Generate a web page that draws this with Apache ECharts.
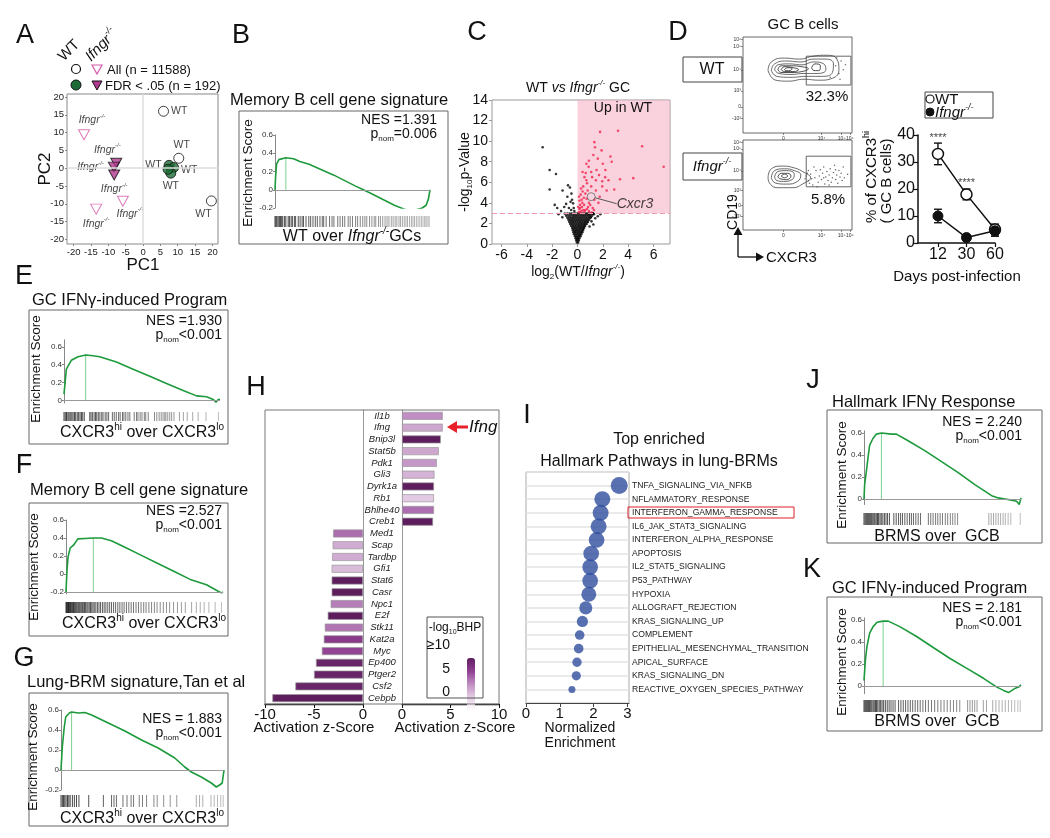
<!DOCTYPE html>
<html><head><meta charset="utf-8">
<script src="https://cdn.jsdelivr.net/npm/echarts@6/dist/echarts.min.js"></script>
<style>html,body{margin:0;padding:0;background:#fff}#c{width:1050px;height:838px}</style>
</head><body><div id="c"></div>
<script>
// ================= DATA =================
// A: PCA
const pcaTicks=[-20,-15,-10,-5,0,5,10,15,20];
const pcaWtAll=[[5.9,16],[10.3,2.8],[19.7,-9.2]];
const pcaWtFdr=[[7.5,0.8],[8.8,0.2],[8.0,-1.4],[7.2,-0.3]];
const pcaKoAll=[[-17,9.4],[-13.5,-11.5],[-5.8,-9.3]];
const pcaKoFdr=[[-7.7,1.4],[-8.4,0.3],[-8.3,-1.9]];
// GSEA running enrichment scores ([rank %, ES]) and hit positions (rank %)
const bES=[[0,0],[0.4,0.15],[1,0.28],[2.5,0.33],[7,0.35],[12,0.34],[16,0.31],[22,0.28],[30,0.22],[38,0.16],[45,0.1],[52,0.04],[57,0],[63,-0.05],[70,-0.11],[77,-0.17],[83,-0.21],[87,-0.23],[91,-0.22],[95,-0.2],[97.5,-0.17],[99,-0.1],[100,0]];
const bHits=[0,0.6,1.2,2,2.8,3.5,4.3,5,6.2,7,8.5,9.3,10.4,11.2,12.5,13.3,15,16.2,17.5,18.4,20,21.8,23,24.5,26,27.3,29,30.5,31.4,33,35.2,36.8,38,40.5,42,43.6,45,47.2,48.5,50,52,53.3,55,56.6,58,59.2,61,62.5,64,65,66.8,68,69.5,71,72.3,73.5,75,76.2,77.5,78.6,80,81,82.2,83.4,84.5,85.5,86.8,88,89,90,91.2,92.3,93.4,94.5,95.5,96.5,97.3,98,98.8,99.5];
const eES=[[0,0.07],[1.5,0.35],[4.7,0.45],[9,0.49],[13.9,0.51],[18.6,0.5],[22.9,0.49],[33.6,0.43],[44.3,0.35],[55,0.27],[65.7,0.19],[76.4,0.11],[85,0.05],[91.4,0.04],[95.7,0.01],[97.4,-0.02],[98.9,0.01],[100,0.01]];
const eHits=[0,0.8,1.6,2.5,3.2,4,5,5.8,6.7,7.5,8.5,9.4,10.3,11.2,12,13,16.5,17.3,18.2,19.3,20.2,21,22,23,24.2,25,26.4,27.5,28.6,31,32.2,33.5,35,36,37.5,38.4,39.6,41,42.2,45,46.5,47.4,48.8,50,51.5,52.4,54,58,59.5,61,62.3,63.5,64.6,65.3,66.5,67.8,69,70.5,74,76.5,79,82.5,86,91,99];
const fES=[[0,-0.2],[0.6,0.03],[1.3,0.19],[2.7,0.29],[4.8,0.32],[7.5,0.39],[12.1,0.395],[17.4,0.4],[22.6,0.4],[28.9,0.37],[37.2,0.3],[47.7,0.21],[58.2,0.12],[68.6,0.03],[79.1,-0.06],[89.5,-0.12],[95.8,-0.18],[99,-0.21],[100,-0.2]];
const fHits=[0,0.4,0.8,1.2,1.6,2,2.4,2.8,3.3,3.8,4.3,4.8,5.3,5.9,6.5,7.1,7.8,8.4,9,9.7,10.4,11,11.8,12.5,13.3,14,14.8,15.6,16.4,17.2,18,19,20,21,22,23.2,24.3,25.4,26.6,27.8,29,30.3,31.6,33,34.3,35.7,37,38.5,40,41.5,43,44.6,46.2,47.8,49.5,51,52.8,54.5,56.3,58,60,62,64,66,68.5,71,73.5,76,80,83,85.5,88,91,95,99];
const gES=[[0,0],[0.8,0.23],[2,0.43],[2.9,0.53],[4.1,0.55],[5.1,0.57],[6.5,0.58],[10.6,0.57],[14.7,0.575],[18.8,0.55],[29,0.47],[39.2,0.39],[49.4,0.3],[59.6,0.22],[69.8,0.12],[75.9,0.03],[80,-0.02],[86.1,-0.07],[92.2,-0.13],[95.3,-0.17],[97.3,-0.15],[98.9,-0.13],[100,0]];
const gHits=[0,0.8,1.5,2.3,3.1,4,4.8,5.6,7,8.2,9.5,11,17,26,31,32.5,34,38,40.5,43,44.5,48,50,52.5,57,59,63,67,71,83,85,87,92,94,96,98,99.5];
const jES=[[0,0],[0.4,0.13],[1.5,0.25],[2.6,0.38],[3.6,0.49],[5.7,0.55],[7.9,0.59],[11.1,0.6],[17.4,0.59],[20.6,0.59],[28.1,0.53],[38.7,0.44],[49.4,0.34],[60,0.24],[70.6,0.13],[81.3,0.03],[85.5,0.01],[89.8,0],[94,-0.01],[97.2,-0.02],[98.9,-0.05],[100,0.01]];
const jHits=[0,0.7,1.4,2,2.6,3.2,3.8,4.4,5,5.7,6.4,7,7.8,8.6,9.3,10.2,11,12,13,14,15,16.2,19,20.5,22,23.3,24.5,26,27.5,29,30.2,31.5,33,34.5,36,41,42.5,44,45.6,47,48.5,50,51.8,53.3,55,56.5,58,59.6,79.5,81,82.5,84,85.5,87,88.6,90,91.8,93.5,99.5];
const kES=[[0,0.05],[0.9,0.24],[1.9,0.36],[3.6,0.48],[5.8,0.54],[8.3,0.58],[12.2,0.59],[15.4,0.59],[22.8,0.54],[33.5,0.45],[44.1,0.35],[54.8,0.25],[65.5,0.16],[76.1,0.07],[84.6,-0.01],[88.9,-0.04],[92.1,-0.06],[94.2,-0.04],[96.4,-0.02],[98.5,-0.01],[100,0.01]];
const kHits=[0,0.6,1.2,1.8,2.4,3,3.6,4.3,5,5.8,6.5,7.3,8,8.8,9.7,10.6,11.5,12.5,13.6,14.8,16,17.2,18.5,19.8,22,23.5,25,26.5,28,29.5,31,32.6,34.2,35.8,37.5,39.2,41,43,45,47,49,51,53,55,57,59,61,66,67.5,69,70.5,72,76,78,82,84,86,88,90,92,94,96,98,99.5];
// C: volcano
const vxTicks=[-6,-4,-2,0,2,4,6];
const volcanoUp=[[1.78,10.9],[3.2,11.0],[1.33,9.9],[1.38,9.4],[5.1,9.5],[2.6,8.5],[1.9,9.1],[0.9,8.1],[2.7,8.0],[6.8,7.5],[1.5,7.2],[1.08,7.0],[2.2,7.2],[1.95,6.1],[3.35,6.3],[4.4,6.4],[2.9,5.3],[1.45,5.2],[0.7,6.2],[0.75,5.9],[0.45,5.6],[0.62,4.9],[0.33,4.3],[0.52,3.8],[0.83,3.6],[1.2,3.5],[0.2,3.5],[0.4,5.1],[0.65,6.9],[0.88,7.5],[1.15,6.5],[1.7,6.7],[1.95,5.6],[2.45,6.2],[2.3,5.2],[1.33,4.3],[1.65,4.0],[0.25,4.8],[0.38,4.0],[0.6,3.3],[0.72,4.4],[1.08,5.6],[1.45,6.2],[1.25,8.65],[1.6,8.3],[2.0,7.8],[2.18,6.5],[1.75,4.6],[0.9,4.0],[0.1,3.1],[0.15,3.4],[0.3,3.2],[0.45,3.3],[0.2,3.8],[0.35,3.6],[0.75,3.4],[0.9,3.2],[1.0,3.8],[1.3,3.3],[0.5,4.5],[0.15,4.2],[0.28,5.4],[0.55,6.5],[0.4,7.0],[0.7,7.8],[0.8,5.2],[0.55,3.15],[0.25,3.05],[1.1,3.05],[0.05,3.6],[0.12,4.6]];
const volcanoNs=[[-0.05,0.15],[0.05,0.15],[-0.1,0.35],[0,0.35],[0.1,0.35],[-0.15,0.55],[-0.05,0.55],[0.05,0.55],[0.15,0.55],[-0.2,0.75],[-0.08,0.75],[0.04,0.75],[0.15,0.75],[0.25,0.75],[-0.28,0.95],[-0.15,0.95],[-0.03,0.95],[0.1,0.95],[0.2,0.95],[0.3,0.95],[-0.33,1.15],[-0.2,1.15],[-0.08,1.15],[0.05,1.15],[0.17,1.15],[0.3,1.15],[0.38,1.15],[-0.38,1.35],[-0.25,1.35],[-0.12,1.35],[0,1.35],[0.12,1.35],[0.25,1.35],[0.38,1.35],[0.45,1.35],[-0.42,1.55],[-0.3,1.55],[-0.18,1.55],[-0.05,1.55],[0.08,1.55],[0.2,1.55],[0.32,1.55],[0.44,1.55],[0.52,1.55],[-0.5,1.75],[-0.36,1.75],[-0.22,1.75],[-0.1,1.75],[0.04,1.75],[0.16,1.75],[0.28,1.75],[0.4,1.75],[0.52,1.75],[0.6,1.75],[-0.58,1.95],[-0.44,1.95],[-0.3,1.95],[-0.16,1.95],[-0.02,1.95],[0.12,1.95],[0.25,1.95],[0.38,1.95],[0.5,1.95],[0.62,1.95],[0.72,1.95],[-0.65,2.15],[-0.5,2.15],[-0.36,2.15],[-0.22,2.15],[-0.08,2.15],[0.06,2.15],[0.2,2.15],[0.34,2.15],[0.47,2.15],[0.6,2.15],[0.72,2.15],[0.82,2.15],[-0.72,2.35],[-0.58,2.35],[-0.44,2.35],[-0.3,2.35],[-0.16,2.35],[-0.02,2.35],[0.12,2.35],[0.26,2.35],[0.4,2.35],[0.54,2.35],[0.67,2.35],[0.8,2.35],[0.92,2.35],[-0.8,2.55],[-0.65,2.55],[-0.5,2.55],[-0.36,2.55],[-0.22,2.55],[-0.08,2.55],[0.06,2.55],[0.2,2.55],[0.34,2.55],[0.48,2.55],[0.62,2.55],[0.76,2.55],[0.9,2.55],[1.02,2.55],[-0.9,2.75],[-0.72,2.75],[-0.56,2.75],[-0.4,2.75],[-0.26,2.75],[-0.12,2.75],[0.02,2.75],[0.16,2.75],[0.3,2.75],[0.44,2.75],[0.58,2.75],[0.72,2.75],[0.86,2.75],[1.0,2.75],[1.15,2.75],[-1.0,2.95],[-0.8,2.95],[-0.62,2.95],[-0.45,2.95],[-0.3,2.95],[-0.15,2.95],[0,2.95],[0.15,2.95],[0.3,2.95],[0.45,2.95],[0.6,2.95],[0.75,2.95],[0.9,2.95],[1.05,2.95],[1.2,2.95],[-2.75,9.4],[-2.2,7.2],[-1.7,6.8],[-2.2,5.3],[-0.75,5.7],[-0.6,5.5],[-1.18,5.2],[-1.8,3.8],[-0.8,4.6],[-0.48,4.9],[-0.43,4.3],[-0.35,3.95],[-1.05,3.6],[-0.68,3.5],[-0.3,3.5],[-0.55,4.1],[-0.9,3.9],[-0.25,3.2],[-0.5,3.3],[-1.3,3.2],[-1.5,2.9],[-1.2,2.6],[-1.6,3.5],[1.3,2.9],[1.4,2.5],[1.1,2.2],[1.6,2.7],[1.25,1.9],[0.95,1.7],[1.05,2.6],[1.8,2.9],[1.2,3.0],[0.9,2.9]];
const cxcr3=[[1.08,4.6]];
const pThreshold=3;
// D: flow plots (plot units 0-100) and time course
const flowTickY=[15.3,27,44,65.6,90,97.6], flowLabY=['-10³','0','10³','10⁴','10⁵','10⁶'];
const flowTickX=[37,72,90.5,98], flowLabX=['0','10⁴','10⁵','10⁶'];
const wtContours=[
 [[23,65],[26,74],[38,78],[52,77],[64,80],[76,81],[86,77],[88,66],[82,57],[70,55],[56,56],[42,54],[30,55],[23,65]],
 [[26,65],[29,72],[40,75],[53,74],[65,77],[76,77],[83,72],[82,63],[72,59],[58,59],[44,58],[31,59],[26,65]],
 [[29,66],[32,71],[42,72],[54,71],[65,74],[74,72],[76,66],[68,62],[56,62],[44,61],[33,62],[29,66]],
 [[32,66],[35,70],[44,70],[54,69],[60,67],[54,64],[44,63],[35,63],[32,66]],
 [[35,66],[38,69],[46,68],[51,66],[46,64],[38,64],[35,66]],
 [[38,66],[41,68],[45,67],[43,65],[39,65],[38,66]],
 [[63,68],[66,72],[71,70],[70,65],[65,65],[63,68]]];
const koContours=[
 [[23,58],[26,68],[36,71],[47,69],[56,64],[62,58],[56,52],[45,47],[32,47],[25,51],[23,58]],
 [[26,58],[29,66],[38,68],[47,66],[53,61],[50,54],[40,51],[30,52],[26,58]],
 [[29,59],[32,65],[40,66],[47,62],[45,56],[37,54],[31,55],[29,59]],
 [[32,59],[35,63],[41,63],[44,60],[40,56],[34,57],[32,59]],
 [[35,60],[38,62],[41,60],[38,58],[35,60]]];
const wtGateDots=[[85,70],[88,62],[90,75],[92,66],[94,71],[89,56],[86,78],[80,58]];
const koGateDots=[[60,55],[62,62],[64,50],[66,58],[67,66],[69,53],[70,60],[72,56],[73,63],[74,70],[75,51],[76,59],[77,65],[78,55],[79,61],[80,68],[81,53],[82,58],[83,64],[84,72],[85,56],[86,61],[87,52],[88,66],[89,59],[90,63],[91,55],[92,70],[60,66],[63,57],[65,70],[68,48],[71,67],[58,60],[61,52],[74,58],[79,50],[85,67],[93,58],[96,62],[57,57],[59,63]];
const wtGate=[58,50,99,80], koGate=[58,48,99,82];
const dayLabels=['12','30','60'];
const wtPct=[33,18,5], wtErr=[4,2,2];
const koPct=[10,2,4.5], koErr=[2.5,0.5,2];
const starPos=[[1,39],[2,22.3]];
// H: upstream regulators
const genesUp=['Il1b','Ifng','Bnip3l','Stat5b','Pdk1','Gli3','Dyrk1a','Rb1','Bhlhe40','Creb1'];
const zUp=[4.2,4.2,4.0,3.8,3.6,3.35,3.3,3.3,3.3,3.2];
const bhpUp=[5,4,10,4,4.6,3.5,10,2.6,6,10];
const genesDown=['Med1','Scap','Tardbp','Gfi1','Stat6','Casr','Npc1','E2f','Stk11','Kat2a','Myc','Ep400','Ptger2','Csf2','Cebpb'];
const zDown=[-3.05,-3.1,-3.15,-3.2,-3.2,-3.2,-3.3,-3.6,-3.9,-4.0,-4.2,-4.8,-5.0,-6.9,-9.25];
const bhpDown=[6,3.8,3.8,3.2,10,10,5.5,10,5.8,7.8,7.3,9.5,9.5,9.5,10];
// I: hallmark pathways
const pathways=['TNFA_SIGNALING_VIA_NFKB','NFLAMMATORY_RESPONSE','INTERFERON_GAMMA_RESPONSE','IL6_JAK_STAT3_SIGNALING','INTERFERON_ALPHA_RESPONSE','APOPTOSIS','IL2_STAT5_SIGNALING','P53_PATHWAY','HYPOXIA','ALLOGRAFT_REJECTION','KRAS_SIGNALING_UP','COMPLEMENT','EPITHELIAL_MESENCHYMAL_TRANSITION','APICAL_SURFACE','KRAS_SIGNALING_DN','REACTIVE_OXYGEN_SPECIES_PATHWAY'];
const pathNES=[2.76,2.26,2.21,2.15,2.09,1.93,1.9,1.9,1.86,1.77,1.67,1.59,1.56,1.51,1.49,1.36];
const pathSize=[50,46,46,46,45,45,45,45,42,35,28,22,22,21,20,12];

// ================= BUILD =================
const FF='"Liberation Sans", Arial, Helvetica, sans-serif';
const chart=echarts.init(document.getElementById('c'),null,{renderer:'canvas'});
const grids=[],xs=[],ys=[],series=[],G=[],vms=[];
function panel(g,x,y){const i=grids.length;grids.push(g);xs.push(Object.assign({gridIndex:i},x));ys.push(Object.assign({gridIndex:i},y));return i;}
const HID=(min,max)=>({type:'value',show:false,min,max});
function richG(fs,col){col=col||'#111';const sf=Math.max(5,Math.round(fs*0.6));const lh=Math.round(fs*1.3);
 return {i:{fontStyle:'italic',fontSize:fs,fontFamily:FF,lineHeight:lh,fill:col},
  s:{fontSize:sf,fontFamily:FF,verticalAlign:'top',lineHeight:sf+1,fill:col},
  si:{fontSize:sf,fontStyle:'italic',fontFamily:FF,verticalAlign:'top',lineHeight:sf+1,fill:col},
  b:{fontSize:sf,fontFamily:FF,verticalAlign:'bottom',lineHeight:sf+1,fill:col}};}
function richS(fs){const sf=Math.max(5,Math.round(fs*0.6));const lh=Math.round(fs*1.3);
 return {i:{fontStyle:'italic',fontSize:fs,fontFamily:FF,lineHeight:lh,color:'#111'},
  s:{fontSize:sf,fontStyle:'italic',fontFamily:FF,verticalAlign:'top',lineHeight:sf+1,color:'#111'}};}
function T(x,y,text,o){o=o||{};const fs=o.fs||12;
 G.push({type:'text',x,y,rotation:o.rot||0,z:100,silent:true,
  style:{text,fontSize:fs,fontFamily:FF,fontStyle:o.it?'italic':'normal',fill:o.c||'#111',
   align:o.al||'left',verticalAlign:o.va||'middle',rich:richG(fs,o.c),lineHeight:Math.round(fs*1.3)}});}
function R(x,y,w,h,o){o=o||{};G.push({type:'rect',shape:{x,y,width:w,height:h},z:o.z||90,silent:true,style:{fill:o.fill||'none',stroke:o.stroke||'#555',lineWidth:o.lw||1}});}
function L(x1,y1,x2,y2,o){o=o||{};G.push({type:'line',shape:{x1,y1,x2,y2},z:95,silent:true,style:{stroke:o.c||'#111',lineWidth:o.lw||1}});}
function P(points,o){o=o||{};G.push({type:'polygon',shape:{points},z:96,silent:true,style:{fill:o.fill||'#111',stroke:o.stroke||'none',lineWidth:o.lw||1}});}
function C(cx,cy,r,o){o=o||{};G.push({type:'circle',shape:{cx,cy,r},z:96,silent:true,style:{fill:o.fill||'#fff',stroke:o.stroke||'#111',lineWidth:o.lw||1}});}

// ---------- Panel letters ----------
[['A',25,36],['B',241,36],['C',477,33],['D',678,33],['E',24,277],['F',24,466],['G',24,659],['H',256,388],['I',527,416],['J',813,381],['K',812,570]]
 .forEach(a=>T(a[1],a[2],a[0],{fs:27,al:'center'}));

// ---------- A ----------
const gA=panel({left:67,top:94,width:151,height:150,show:true,borderColor:'#888',borderWidth:1},
 {type:'value',min:-21.9,max:21.6,axisLine:{show:false,onZero:false},axisTick:{show:true,length:2,customValues:pcaTicks,lineStyle:{color:'#888'}},axisLabel:{customValues:pcaTicks,fontSize:9.5,color:'#222',margin:3,fontFamily:FF},splitLine:{show:false}},
 {type:'value',min:-21.3,max:20.85,axisLine:{show:false,onZero:false},axisTick:{show:true,length:2,customValues:pcaTicks,lineStyle:{color:'#888'}},axisLabel:{customValues:pcaTicks,fontSize:9.5,color:'#222',margin:3,fontFamily:FF},splitLine:{show:false}});
const wtAllLab=[['right',[0,0]],['top',[3,0]],['bottom',[-8,0]]];
const wtFdrLab=[['left',[0,0]],['right',[0,3]],['bottom',[0,0]],null];
const koAllLab=[['top',[8,0]],['bottom',[0,0]],['bottom',[7,-2]]];
const koFdrLab=[['top',[-9,1]],['left',[-2,0]],['bottom',[0,0]]];
function mkLab(l,ko){ if(!l) return {show:false};
 return {show:true,position:l[0],offset:l[1],distance:2,formatter:ko?'{i|Ifngr}{s|-/-}':'WT',fontSize:10.5,fontFamily:FF,color:'#111',rich:richS(10.5)};}
series.push({type:'scatter',xAxisIndex:gA,yAxisIndex:gA,z:1,data:[],
 markLine:{silent:true,symbol:['none','none'],label:{show:false},lineStyle:{color:'#ddd',width:1.5,type:'solid'},data:[{xAxis:0},{yAxis:0}]}});
series.push({type:'scatter',xAxisIndex:gA,yAxisIndex:gA,z:3,symbol:'circle',symbolSize:10,itemStyle:{color:'#fff',borderColor:'#111',borderWidth:1},
 data:pcaWtAll.map((p,i)=>({value:p,label:mkLab(wtAllLab[i],false)}))});
series.push({type:'scatter',xAxisIndex:gA,yAxisIndex:gA,z:3,symbol:'circle',symbolSize:10,itemStyle:{color:'#1d6b36',borderColor:'#111',borderWidth:1},
 data:pcaWtFdr.map((p,i)=>({value:p,label:mkLab(wtFdrLab[i],false)}))});
series.push({type:'scatter',xAxisIndex:gA,yAxisIndex:gA,z:3,symbol:'triangle',symbolRotate:180,symbolSize:[11,10],itemStyle:{color:'#fff',borderColor:'#d55aa8',borderWidth:1},
 data:pcaKoAll.map((p,i)=>({value:p,label:mkLab(koAllLab[i],true)}))});
series.push({type:'scatter',xAxisIndex:gA,yAxisIndex:gA,z:3,symbol:'triangle',symbolRotate:180,symbolSize:[11,10],itemStyle:{color:'#b0388f',borderColor:'#111',borderWidth:1},
 data:pcaKoFdr.map((p,i)=>({value:p,label:mkLab(koFdrLab[i],true)}))});
T(143,265,'PC1',{fs:17,al:'center'});
T(45,169,'PC2',{fs:17,al:'center',rot:Math.PI/2});
T(68,66,'WT',{fs:15,rot:Math.PI/4,va:'bottom'});
T(95,66,'{i|Ifngr}{si|-/-}',{fs:15,rot:Math.PI/4,va:'bottom'});
C(76,69,4.5,{lw:1.2});
P([[92,65],[102,65],[97,74]],{fill:'#fff',stroke:'#d55aa8',lw:1.2});
T(107,70,'All (n = 11588)',{fs:13});
C(76,85,5,{fill:'#1d6b36'});
P([[92,81],[102,81],[97,90]],{fill:'#b0388f',stroke:'#111',lw:1});
T(105,86,'FDR < .05 (n = 192)',{fs:13});

// ---------- GSEA builder ----------
function barColor(p){const g=Math.round(15+p.value[0]*1.6);return 'rgb('+g+','+g+','+g+')';}
function gsea(c){
 const yt=c.ticks;
 const gi=panel({left:c.px[0],top:c.top,width:c.px[1]-c.px[0],height:c.h},
  {type:'value',min:0,max:100,show:false},
  {type:'value',min:c.ymin,max:c.ymax,axisLine:{show:true,onZero:false,lineStyle:{color:'#888',width:1}},
   axisTick:{show:true,length:2,customValues:yt,lineStyle:{color:'#888'}},
   axisLabel:{customValues:yt,fontSize:8,color:'#333',margin:2,fontFamily:FF,formatter:v=>(c.lmap&&c.lmap[v])||(v===0?'0':String(v))},
   splitLine:{show:false}});
 const pk=c.es.reduce((a,b)=>b[1]>a[1]?b:a);
 // peak marker line (from baseline up to the maximum ES)
 series.push({type:'line',xAxisIndex:gi,yAxisIndex:gi,data:[[pk[0],c.base],[pk[0],pk[1]]],showSymbol:false,symbol:'none',z:2,
  lineStyle:{color:'#7cd08f',width:1}});
 series.push({type:'line',xAxisIndex:gi,yAxisIndex:gi,data:c.es,showSymbol:false,symbol:'none',z:3,
  lineStyle:{color:'#1d9a3c',width:1.6},
  markLine:{silent:true,symbol:['none','none'],label:{show:false},animation:false,
   data:[{yAxis:c.base,lineStyle:{color:'#999',width:1,type:'solid'}}]}});
 const bi=panel({left:c.px[0],top:c.bar[0],width:c.px[1]-c.px[0],height:c.bar[1]},HID(0,100),HID(0,1));
 series.push({type:'scatter',xAxisIndex:bi,yAxisIndex:bi,symbol:'rect',symbolSize:[1,c.bar[1]],
  itemStyle:{color:barColor},data:c.hits.map(h=>[h,0.5])});
 R(c.box[0],c.box[1],c.box[2],c.box[3],{stroke:'#666'});
 T(c.title[0],c.title[1],c.title[2],{fs:16.5,al:c.title[3]||'left'});
 T(c.nes[0],c.nes[1],c.nes[2],{fs:14,al:'right'});
 T(c.nes[0],c.nes[1]+14,c.nes[3],{fs:14,al:'right'});
 T(c.esl[0],c.esl[1],'Enrichment Score',{fs:13.5,al:'center',rot:Math.PI/2});
 T(c.bl[0],c.bl[1],c.bl[2],{fs:16,al:'center'});
}
const tk5=[-0.2,0,0.2,0.4,0.6], tk4=[0,0.2,0.4,0.6];
gsea({px:[275,430],top:135,h:73,ymin:-0.2,ymax:0.6,ticks:tk5,base:0,es:bES,hits:bHits,bar:[216,11],
 box:[239,111,209,133],title:[230,100,'Memory B cell gene signature'],nes:[437,120,'NES =1.391','p{b|nom}=0.006'],esl:[248,173],bl:[352,237,'WT over {i|Ifngr}{si|-/-}GCs']});
gsea({px:[64,220],top:339.8,h:63.2,ymin:-0.03,ymax:0.68,ticks:[0,0.2,0.4,0.6,0.68],lmap:{0.68:'0.8'},base:0,es:eES,hits:eHits,bar:[412,9],
 box:[29,310,199,134],title:[32,300,'GC IFNγ-induced Program'],nes:[222,321,'NES =1.930','p{b|nom}<0.001'],esl:[36,369],bl:[142,433,'CXCR3{s|hi} over CXCR3{s|lo}']});
gsea({px:[66,223],top:520,h:73.8,ymin:-0.22,ymax:0.6,ticks:tk5,base:-0.2,es:fES,hits:fHits,bar:[602,11],
 box:[29,503,199,133],title:[30,490,'Memory B cell gene signature'],nes:[222,511,'NES =2.527','p{b|nom}<0.001'],esl:[34,567],bl:[144,624,'CXCR3{s|hi} over CXCR3{s|lo}']});
gsea({px:[61,224],top:710,h:80,ymin:-0.2,ymax:0.6,ticks:tk5,base:0,es:gES,hits:gHits,bar:[795,12],
 box:[29,693,199,133],title:[27,682,'Lung-BRM signature,Tan et al'],nes:[222,719,'NES = 1.883','p{b|nom}<0.001'],esl:[33,757],bl:[142,819,'CXCR3{s|hi} over CXCR3{s|lo}']});
gsea({px:[864,1021],top:430.8,h:73.7,ymin:-0.05,ymax:0.62,ticks:tk4,base:0,es:jES,hits:jHits,bar:[513,12],
 box:[827,410,215,133],title:[832,402,'Hallmark IFNγ Response'],nes:[1022,422,'NES = 2.240','p{b|nom}<0.001'],esl:[842,475],bl:[937,537,'BRMS over  GCB']});
gsea({px:[864,1021],top:617.8,h:75.9,ymin:-0.07,ymax:0.62,ticks:tk4,base:0,es:kES,hits:kHits,bar:[700,12],
 box:[827,597,215,134],title:[832,588,'GC IFNγ-induced Program'],nes:[1022,608,'NES = 2.181','p{b|nom}<0.001'],esl:[842,662],bl:[937,722,'BRMS over  GCB']});

// ---------- C: volcano ----------
const gC=panel({left:492,top:100,width:178,height:144,show:true,borderColor:'#999',borderWidth:1},
 {type:'value',min:-6.75,max:7.3,axisLine:{show:false,onZero:false},axisTick:{show:true,length:3,customValues:vxTicks,lineStyle:{color:'#999'}},axisLabel:{customValues:vxTicks,fontSize:14,color:'#111',margin:4,fontFamily:FF},splitLine:{show:false}},
 {type:'value',min:0,max:14,interval:2,axisLine:{show:false,onZero:false},axisTick:{show:true,length:3,lineStyle:{color:'#999'}},axisLabel:{fontSize:14,color:'#111',margin:4,fontFamily:FF},splitLine:{show:false}});
series.push({type:'scatter',xAxisIndex:gC,yAxisIndex:gC,z:2,symbolSize:2.6,itemStyle:{color:'#000'},data:volcanoNs,
 markArea:{silent:true,itemStyle:{color:'rgba(247,180,198,0.6)'},data:[[{coord:[0,pThreshold]},{coord:[7.3,14]}]]},
 markLine:{silent:true,symbol:['none','none'],label:{show:false},lineStyle:{color:'#f29aae',width:1.2,type:[5,3]},data:[{yAxis:pThreshold}]}});
series.push({type:'scatter',xAxisIndex:gC,yAxisIndex:gC,z:4,symbolSize:2.6,itemStyle:{color:'#f02850'},data:volcanoUp});
series.push({type:'scatter',xAxisIndex:gC,yAxisIndex:gC,z:5,symbolSize:8,itemStyle:{color:'rgba(0,0,0,0)',borderColor:'#666',borderWidth:1},data:cxcr3,
 label:{show:true,formatter:'Cxcr3',fontStyle:'italic',fontSize:14,fontFamily:FF,color:'#111',position:'right'},
 labelLayout:{dx:16,dy:7},labelLine:{show:true,lineStyle:{color:'#555',width:1}}});
T(578,88,'WT {i|vs} {i|Ifngr}{si|-/-} GC',{fs:14,al:'center'});
T(623,108,'Up in WT',{fs:14,al:'center'});
T(465,172,'-log{b|10}p-Value',{fs:14,al:'center',rot:Math.PI/2});
T(578,272,'log{b|2}(WT/{i|Ifngr}{si|-/-})',{fs:14,al:'center'});

// ---------- D: flow plots ----------
function flowPanel(top,h,contours,dots,gate){
 const gi=panel({left:743,top,width:109,height:h,show:true,borderColor:'#444',borderWidth:0.8},
  {type:'value',min:0,max:100,axisLine:{show:false,onZero:false},axisTick:{show:true,length:2,customValues:flowTickX,lineStyle:{color:'#444',width:0.6}},
   axisLabel:{customValues:flowTickX,fontSize:5,color:'#333',margin:3,fontFamily:FF,formatter:v=>flowLabX[flowTickX.indexOf(v)]},splitLine:{show:false}},
  {type:'value',min:0,max:100,axisLine:{show:false,onZero:false},axisTick:{show:true,length:2,customValues:flowTickY,lineStyle:{color:'#444',width:0.6}},
   axisLabel:{customValues:flowTickY,fontSize:5,color:'#333',margin:2,fontFamily:FF,formatter:v=>flowLabY[flowTickY.indexOf(v)]},splitLine:{show:false}});
 contours.forEach((ct,k)=>series.push({type:'line',xAxisIndex:gi,yAxisIndex:gi,data:ct,smooth:0.5,showSymbol:false,symbol:'none',
  lineStyle:{color:k>=3?'#222':'#444',width:0.8}}));
 series.push({type:'scatter',xAxisIndex:gi,yAxisIndex:gi,symbolSize:1.5,itemStyle:{color:'#444'},data:dots,
  markArea:{silent:true,itemStyle:{color:'rgba(0,0,0,0)',borderColor:'#666',borderWidth:1},data:[[{coord:[gate[0],gate[1]]},{coord:[gate[2],gate[3]]}]]}});
}
flowPanel(37,96,wtContours,wtGateDots,wtGate);
flowPanel(140,90,koContours,koGateDots,koGate);
T(803,25,'GC B cells',{fs:15,al:'center'});
R(683,57,59,25,{stroke:'#444'}); T(712,70,'WT',{fs:16,al:'center'});
R(683,153,59,27,{stroke:'#444'}); T(712,167,'{i|Ifngr}{si|-/-}',{fs:15,al:'center'});
T(827,97,'32.3%',{fs:15,al:'center'});
T(828,200,'5.8%',{fs:15,al:'center'});
T(733,212,'CD19',{fs:14,al:'center',rot:Math.PI/2});
L(738,257,738,233,{lw:1.3}); P([[733.5,235],[742.5,235],[738,227]]);
L(738,257,757,257,{lw:1.3}); P([[756,252.5],[756,261.5],[764,257]]);
T(766,258,'CXCR3',{fs:15});

// ---------- D: time course ----------
const gD=panel({left:918,top:135,width:77,height:108},
 {type:'value',min:0.3,max:3.0,axisLine:{show:true,onZero:false,lineStyle:{color:'#111',width:1.5}},axisTick:{show:true,length:4,customValues:[1,2,3],lineStyle:{color:'#111',width:1.2}},
  axisLabel:{customValues:[1,2,3],fontSize:16,color:'#111',margin:4,fontFamily:FF,formatter:v=>dayLabels[v-1]},splitLine:{show:false}},
 {type:'value',min:0,max:40,interval:10,axisLine:{show:true,onZero:false,lineStyle:{color:'#111',width:1.5}},axisTick:{show:true,length:4,lineStyle:{color:'#111',width:1.2}},
  axisLabel:{fontSize:16,color:'#111',margin:3,fontFamily:FF},splitLine:{show:false}});
function errRender(params,api){
 const x=api.value(0),lo=api.value(1),hi=api.value(2);
 const a=api.coord([x,hi]),b=api.coord([x,lo]);const w=4;const st={stroke:'#111',lineWidth:1.4};
 return {type:'group',children:[
  {type:'line',shape:{x1:a[0],y1:a[1],x2:b[0],y2:b[1]},style:st},
  {type:'line',shape:{x1:a[0]-w,y1:a[1],x2:a[0]+w,y2:a[1]},style:st},
  {type:'line',shape:{x1:b[0]-w,y1:b[1],x2:b[0]+w,y2:b[1]},style:st}]};}
series.push({type:'custom',xAxisIndex:gD,yAxisIndex:gD,z:1,renderItem:errRender,encode:{x:0,y:[1,2]},
 data:wtPct.map((v,i)=>[i+1,v-wtErr[i],v+wtErr[i]]).concat(koPct.map((v,i)=>[i+1,v-koErr[i],v+koErr[i]]))});
series.push({type:'line',xAxisIndex:gD,yAxisIndex:gD,z:3,data:wtPct.map((v,i)=>[i+1,v]),symbol:'circle',symbolSize:11,
 lineStyle:{color:'#111',width:1.5},itemStyle:{color:'#fff',borderColor:'#111',borderWidth:1.5}});
series.push({type:'line',xAxisIndex:gD,yAxisIndex:gD,z:4,data:koPct.map((v,i)=>[i+1,v]),symbol:'circle',symbolSize:10,
 lineStyle:{color:'#111',width:1.5},itemStyle:{color:'#111',borderColor:'#111',borderWidth:1}});
series.push({type:'scatter',xAxisIndex:gD,yAxisIndex:gD,z:5,symbolSize:0,data:starPos,
 label:{show:true,position:'inside',formatter:'****',fontSize:11,fontFamily:FF,color:'#111'}});
R(925,92,68,26,{stroke:'#444'});
C(930,99,4,{lw:1.2}); T(935,99.5,'WT',{fs:15});
C(930,112,4,{fill:'#111'}); T(935,112.5,'{i|Ifngr}{si|-/-}',{fs:15});
T(872,177,'% of CXCR3{s|hi}',{fs:15,al:'center',rot:Math.PI/2});
T(887,181,'( GC B cells)',{fs:15,al:'center',rot:Math.PI/2});
T(957,277,'Days post-infection',{fs:15,al:'center'});

// ---------- H: regulators ----------
const allGenes=genesUp.concat(genesDown);
const gHL=panel({left:265,top:410,width:98,height:294},
 {type:'value',min:-10,max:0,interval:5,axisLine:{show:true,onZero:false,lineStyle:{color:'#111',width:1.3}},axisTick:{show:true,length:4,lineStyle:{color:'#111'}},axisLabel:{fontSize:15,color:'#111',margin:3,fontFamily:FF},splitLine:{show:false}},
 {type:'category',data:allGenes,inverse:true,position:'right',axisLine:{show:true,onZero:false,lineStyle:{color:'#999',width:1}},axisTick:{show:false},axisLabel:{show:false}});
const gHR=panel({left:402,top:410,width:97,height:294},
 {type:'value',min:0,max:10,interval:5,axisLine:{show:true,onZero:false,lineStyle:{color:'#111',width:1.3}},axisTick:{show:true,length:4,lineStyle:{color:'#111'}},axisLabel:{fontSize:15,color:'#111',margin:3,fontFamily:FF},splitLine:{show:false}},
 {type:'category',data:allGenes,inverse:true,position:'left',axisLine:{show:true,onZero:false,lineStyle:{color:'#999',width:1}},axisTick:{show:false},
  axisLabel:{show:true,interval:0,align:'center',margin:20,fontStyle:'italic',fontSize:9.5,color:'#222',fontFamily:FF}});
const sHL=series.length;
series.push({type:'bar',xAxisIndex:gHL,yAxisIndex:gHL,barWidth:8,encode:{x:0,y:1},itemStyle:{borderColor:'#999',borderWidth:0.7},
 data:genesDown.map((g,i)=>[zDown[i],g,bhpDown[i]])});
const sHR=series.length;
series.push({type:'bar',xAxisIndex:gHR,yAxisIndex:gHR,barWidth:8,encode:{x:0,y:1},itemStyle:{borderColor:'#999',borderWidth:0.7},
 data:genesUp.map((g,i)=>[zUp[i],g,bhpUp[i]])});
vms.push({type:'continuous',min:0,max:10,dimension:2,seriesIndex:[sHL,sHR],orient:'vertical',left:452,top:643,itemWidth:8,itemHeight:52,
 calculable:false,hoverLink:false,text:null,showLabel:false,inRange:{color:['#ffffff','#e3cce3','#c08ec2','#8f3f8f','#5e1e5e']}});
R(265,410,234,294,{stroke:'#777'});
R(427,617,56,81,{stroke:'#555',z:80});
T(455,628,'-log{b|10}BHP',{fs:12,al:'center'});
T(450,645,'≥10',{fs:14,al:'right'});
T(450,669,'5',{fs:14,al:'right'});
T(450,692,'0',{fs:14,al:'right'});
P([[447,427],[457,421],[457,433]],{fill:'#e8202a'});
G.push({type:'rect',shape:{x:456,y:425.5,width:12,height:3},z:96,silent:true,style:{fill:'#e8202a'}});
T(469,427,'Ifng',{fs:17,it:true});
T(314,728,'Activation z-Score',{fs:15,al:'center'});
T(455,728,'Activation z-Score',{fs:15,al:'center'});

// ---------- I: hallmark dot plot ----------
const gI=panel({left:526,top:472,width:103,height:231,show:true,borderColor:'#aaa',borderWidth:1},
 {type:'value',min:0,max:3.05,interval:1,axisLine:{show:true,onZero:false,lineStyle:{color:'#444',width:1}},axisTick:{show:true,length:4,lineStyle:{color:'#444'}},axisLabel:{fontSize:15,color:'#111',margin:3,fontFamily:FF},splitLine:{show:false}},
 {type:'value',min:-1,max:16,interval:1,inverse:true,position:'right',axisLine:{show:false,onZero:false},axisTick:{show:false},
  axisLabel:{fontSize:8.6,color:'#222',margin:3,fontFamily:FF,formatter:v=>(v>=0&&v<pathways.length)?pathways[v]:''},
  splitLine:{show:true,lineStyle:{color:'#e3e3e3',width:1.5}}});
const sI=series.length;
series.push({type:'scatter',xAxisIndex:gI,yAxisIndex:gI,z:3,itemStyle:{color:'#2f4d9c'},data:pathNES.map((v,i)=>[v,i,pathSize[i]])});
vms.push({type:'continuous',show:false,dimension:2,seriesIndex:[sI],min:12,max:50,inRange:{symbolSize:[7,17]}});
R(628,507,166,11,{stroke:'#e0202a'});
T(659,440,'Top enriched',{fs:16,al:'center'});
T(659,462,'Hallmark Pathways in lung-BRMs',{fs:16,al:'center'});
T(580,728,'Normalized',{fs:14,al:'center'});
T(580,743,'Enrichment',{fs:14,al:'center'});

chart.setOption({animation:false,textStyle:{fontFamily:FF},grid:grids,xAxis:xs,yAxis:ys,series,visualMap:vms,graphic:{elements:G}});
</script></body></html>
